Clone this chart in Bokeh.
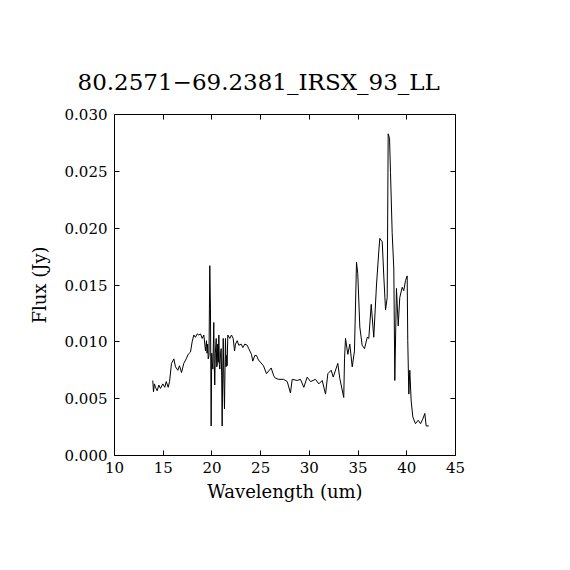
from bokeh.plotting import figure
from bokeh.models import LinearAxis, Range1d, FixedTicker, NumeralTickFormatter
from bokeh.embed import file_html
from bokeh.resources import INLINE

title_text = "80.2571\u221269.2381_IRSX_93_LL"
x_label = "Wavelength (um)"
y_label = "Flux (Jy)"

x_ticks = [10, 15, 20, 25, 30, 35, 40, 45]
y_ticks = [0.000, 0.005, 0.010, 0.015, 0.020, 0.025, 0.030]

wavelength = [
    13.93, 14.00, 14.10, 14.21, 14.38, 14.55, 14.72, 14.96, 15.16, 15.31,
    15.51, 15.65, 15.85, 16.09, 16.26, 16.50, 16.67, 16.88, 17.11, 17.36,
    17.56, 17.80, 17.97, 18.14, 18.31, 18.49, 18.65, 18.83, 19.00, 19.17,
    19.34, 19.44, 19.50, 19.56, 19.62, 19.70, 19.78, 19.85, 19.92, 19.98,
    20.03, 20.10, 20.19, 20.24, 20.29, 20.35, 20.44, 20.49, 20.54, 20.60,
    20.66, 20.71, 20.76, 20.81, 20.88, 20.95, 21.00, 21.05, 21.10, 21.16,
    21.22, 21.29, 21.34, 21.39, 21.45, 21.50, 21.56, 21.63,
    21.83, 22.01, 22.18, 22.32, 22.42, 22.59, 22.76, 23.00, 23.17, 23.37,
    23.62, 23.78, 24.06, 24.19, 24.40, 24.57, 24.78, 25.29, 25.60, 26.08,
    26.35, 26.52, 26.86, 27.35, 27.73, 28.06, 28.24, 28.75, 29.09, 29.43,
    29.78, 30.12, 30.63, 30.97, 31.32, 31.66, 31.90, 32.24, 32.45, 32.92,
    33.12, 33.53, 33.61, 33.71, 33.95, 34.15, 34.40, 34.63, 34.84, 34.97,
    35.18, 35.42, 35.66, 35.94, 36.10, 36.35, 36.61, 36.89, 37.13, 37.23,
    37.48, 37.64, 37.82, 37.99, 38.09, 38.23, 38.33, 38.50, 38.67, 38.77,
    38.94, 39.12, 39.28, 39.53, 39.69, 39.87, 40.04, 40.10, 40.21, 40.31,
    40.45, 40.62, 40.89, 41.17, 41.41, 41.64, 41.85, 41.99, 42.26,
]
flux = [
    0.0066, 0.0056, 0.0063, 0.0060, 0.0057, 0.0062, 0.0059, 0.0063, 0.0060, 0.0065,
    0.0060, 0.0065, 0.0081, 0.0085, 0.0078, 0.0075, 0.0079, 0.0073, 0.0081, 0.0085,
    0.0089, 0.0091, 0.0100, 0.0106, 0.0104, 0.0107, 0.0106, 0.0107, 0.0103, 0.0106,
    0.0092, 0.0101, 0.0090, 0.0098, 0.0085, 0.0088, 0.0167, 0.0129, 0.0026, 0.0090,
    0.0082, 0.0076, 0.0117, 0.0080, 0.0062, 0.0090, 0.0103, 0.0078, 0.0079, 0.0098,
    0.0082, 0.0106, 0.0080, 0.0076, 0.0090, 0.0094, 0.0070, 0.0026, 0.0070, 0.0103,
    0.0068, 0.0041, 0.0075, 0.0103, 0.0078, 0.0088, 0.0079, 0.0106,
    0.0103, 0.0106, 0.0103, 0.0092, 0.0098, 0.0101, 0.0097, 0.0098, 0.0095, 0.0098,
    0.0097, 0.0094, 0.0089, 0.0083, 0.0088, 0.0088, 0.0084, 0.0079, 0.0072, 0.0077,
    0.0070, 0.0068, 0.0067, 0.0067, 0.0065, 0.0055, 0.0067, 0.0066, 0.0067, 0.0060,
    0.0069, 0.0065, 0.0067, 0.0063, 0.0066, 0.0054, 0.0072, 0.0075, 0.0069, 0.0081,
    0.0068, 0.0051, 0.0085, 0.0103, 0.0089, 0.0098, 0.0078, 0.0092, 0.0170, 0.0160,
    0.0113, 0.0097, 0.0094, 0.0104, 0.0103, 0.0133, 0.0104, 0.0150, 0.0180, 0.0191,
    0.0188, 0.0158, 0.0128, 0.0139, 0.0283, 0.0279, 0.0249, 0.0196, 0.0164, 0.0066,
    0.0147, 0.0114, 0.0139, 0.0148, 0.0145, 0.0154, 0.0158, 0.0101, 0.0054, 0.0075,
    0.0048, 0.0034, 0.0028, 0.0031, 0.0028, 0.0032, 0.0037, 0.0026, 0.0026,
]

FONT = "DejaVu Serif"

p = figure(
    width=495, height=535,
    x_range=Range1d(10, 45), y_range=Range1d(0, 0.030),
    output_backend="svg", toolbar_location=None,
    min_border_left=114, min_border_right=40,
    min_border_top=114, min_border_bottom=80,
    x_axis_location=None, y_axis_location=None,
)
p.background_fill_color = "white"
p.border_fill_color = "white"
p.outline_line_color = "black"
p.outline_line_width = 1
p.xgrid.visible = False
p.ygrid.visible = False

p.line(wavelength, flux, line_color="black", line_width=1)

def style_axis(ax, show_labels):
    ax.axis_line_color = None
    ax.major_tick_in = 5
    ax.major_tick_out = 0
    ax.minor_tick_in = 0
    ax.minor_tick_out = 0
    ax.major_tick_line_color = "black"
    ax.major_label_text_font = FONT
    ax.major_label_text_font_size = "15px"
    if show_labels:
        ax.major_label_text_color = "black"
    else:
        ax.major_label_text_color = None
        ax.major_label_standoff = 0

xb = LinearAxis(ticker=FixedTicker(ticks=x_ticks), axis_label=x_label)
style_axis(xb, True)
xb.major_label_standoff = 6
xb.axis_label_text_font = FONT
xb.axis_label_text_font_size = "18px"
xb.axis_label_text_font_style = "normal"
xb.axis_label_text_color = "black"
xb.axis_label_standoff = 5
p.add_layout(xb, "below")

yl = LinearAxis(ticker=FixedTicker(ticks=y_ticks), axis_label=y_label,
                formatter=NumeralTickFormatter(format="0.000"))
style_axis(yl, True)
yl.major_label_standoff = 7
yl.axis_label_text_font = FONT
yl.axis_label_text_font_size = "18px"
yl.axis_label_text_font_style = "normal"
yl.axis_label_text_color = "black"
yl.axis_label_standoff = 12
p.add_layout(yl, "left")

xt = LinearAxis(ticker=FixedTicker(ticks=x_ticks))
style_axis(xt, False)
p.add_layout(xt, "above")

yr = LinearAxis(ticker=FixedTicker(ticks=y_ticks),
                formatter=NumeralTickFormatter(format="0.000"))
style_axis(yr, False)
p.add_layout(yr, "right")

p.title.text = title_text
p.title.text_font = FONT
p.title.text_font_size = "23px"
p.title.text_font_style = "normal"
p.title.text_color = "black"
p.title.align = "left"
p.title.offset = -37
p.title.standoff = 40

open("out.html", "w").write(file_html(p, INLINE))
